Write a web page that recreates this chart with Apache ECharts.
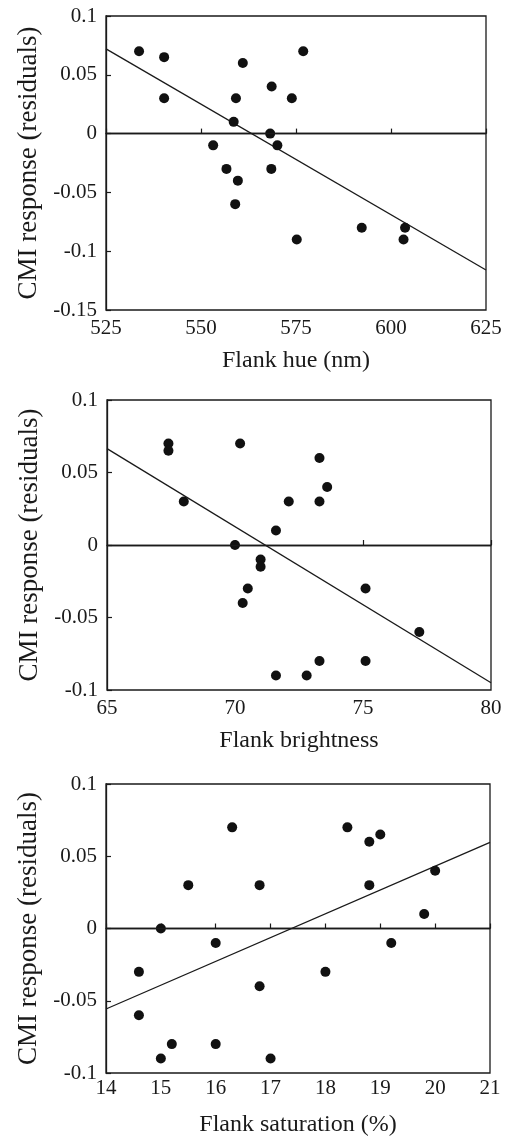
<!DOCTYPE html>
<html>
<head>
<meta charset="utf-8">
<script src="https://cdn.jsdelivr.net/npm/echarts@6/dist/echarts.min.js"></script>
<style>
    html, body { margin: 0; padding: 0; background: #fff; }
    #main { width: 510px; height: 1138px; }
</style>
</head>
<body>
<div id="main"></div>
<script>
// ======================= 数据 =======================
// panel 1: flank hue
let hueX = [533.7, 540.3, 540.3, 561, 559.2, 558.6, 568.6, 573.9, 568.2, 570.1, 553.2, 556.7, 568.5, 559.7, 559.0, 575.2, 576.9, 592.3, 603.7, 603.3]
let hueY = [0.07, 0.065, 0.03, 0.06, 0.03, 0.01, 0.04, 0.03, 0, -0.01, -0.01, -0.03, -0.03, -0.04, -0.06, -0.09, 0.07, -0.08, -0.08, -0.09]
let hueFitX = [525, 625]
let hueFitY = [0.072, -0.116]

// panel 2: flank brightness
let briX = [67.4, 67.4, 68.0, 70.2, 70.0, 71.6, 72.1, 71.0, 71.0, 70.5, 70.3, 71.6, 73.3, 73.6, 73.3, 75.1, 77.2, 73.3, 75.1, 72.8]
let briY = [0.07, 0.065, 0.03, 0.07, 0, 0.01, 0.03, -0.01, -0.015, -0.03, -0.04, -0.09, 0.06, 0.04, 0.03, -0.03, -0.06, -0.08, -0.08, -0.09]
let briFitX = [65, 80]
let briFitY = [0.0665, -0.095]

// panel 3: flank saturation
let satX = [16.3, 15.5, 16.8, 15.0, 16.0, 14.6, 16.8, 14.6, 15.2, 16.0, 15.0, 17.0, 18.4, 18.8, 19.0, 18.8, 20.0, 19.8, 19.2, 18.0]
let satY = [0.07, 0.03, 0.03, 0, -0.01, -0.03, -0.04, -0.06, -0.08, -0.08, -0.09, -0.09, 0.07, 0.06, 0.065, 0.03, 0.04, 0.01, -0.01, -0.03]
let satFitX = [14, 21]
let satFitY = [-0.0557, 0.0596]

// axis ranges [min, max, interval]
let xRanges = [[525, 625, 25], [65, 80, 5], [14, 21, 1]]
let yRanges = [[-0.15, 0.1, 0.05], [-0.1, 0.1, 0.05], [-0.1, 0.1, 0.05]]
let xNames = ['Flank hue (nm)', 'Flank brightness', 'Flank saturation (%)']
let yName = 'CMI response (residuals)'

// ======================= 图表 =======================
let ink = '#1a1a1a'
let font = 'Liberation Serif'

function zip(xs, ys) {
    return xs.map((x, i) => [x, ys[i]])
}

let grids = [
    { left: 106, top: 16, width: 380, height: 294 },
    { left: 107, top: 400, width: 384, height: 290 },
    { left: 106, top: 784, width: 384, height: 293 }
]
let labelMargins = [8, 8, 5]
let nameGaps = [39, 39, 40]

let option = {
    backgroundColor: '#fff',
    animation: false,
    grid: grids.map(g => Object.assign({
        show: true,
        borderColor: ink,
        borderWidth: 1.3,
        backgroundColor: 'transparent'
    }, g)),
    xAxis: xRanges.map((r, i) => ({
        type: 'value',
        gridIndex: i,
        min: r[0],
        max: r[1],
        interval: r[2],
        name: xNames[i],
        nameLocation: 'middle',
        nameGap: nameGaps[i],
        nameTextStyle: { fontFamily: font, fontSize: 24, color: ink },
        axisLine: { show: true, lineStyle: { color: ink, width: 1.3 } },
        axisTick: { show: true, inside: true, length: 5, lineStyle: { color: ink, width: 1.2 } },
        axisLabel: { fontFamily: font, fontSize: 21, color: ink, margin: labelMargins[i] },
        splitLine: { show: false }
    })),
    yAxis: yRanges.map((r, i) => ({
        type: 'value',
        gridIndex: i,
        min: r[0],
        max: r[1],
        interval: r[2],
        name: yName,
        nameLocation: 'middle',
        nameGap: 59,
        nameTextStyle: { fontFamily: font, fontSize: 27, color: ink },
        axisLine: { show: true, lineStyle: { color: ink, width: 1.3 } },
        axisTick: { show: true, inside: true, length: 5, lineStyle: { color: ink, width: 1.2 } },
        axisLabel: {
            fontFamily: font, fontSize: 21, color: ink, margin: 9,
            formatter: v => String(+v.toFixed(2))
        },
        splitLine: { show: false }
    })),
    series: []
}

let panels = [
    [hueX, hueY, hueFitX, hueFitY],
    [briX, briY, briFitX, briFitY],
    [satX, satY, satFitX, satFitY]
]

panels.forEach((p, i) => {
    // 散点
    option.series.push({
        type: 'scatter',
        xAxisIndex: i,
        yAxisIndex: i,
        symbolSize: 10,
        itemStyle: { color: '#111', opacity: 1 },
        data: zip(p[0], p[1]),
        z: 3
    })
    // 回归线 + 零线
    option.series.push({
        type: 'line',
        xAxisIndex: i,
        yAxisIndex: i,
        symbol: 'none',
        lineStyle: { color: ink, width: 1.3 },
        data: zip(p[2], p[3]),
        markLine: {
            silent: true,
            symbol: 'none',
            label: { show: false },
            lineStyle: { color: ink, width: 1.3, type: 'solid' },
            data: [{ yAxis: 0 }]
        },
        z: 2
    })
})

let myChart = echarts.init(document.getElementById('main'), null, { renderer: 'canvas' })
myChart.setOption(option)
</script>
</body>
</html>
